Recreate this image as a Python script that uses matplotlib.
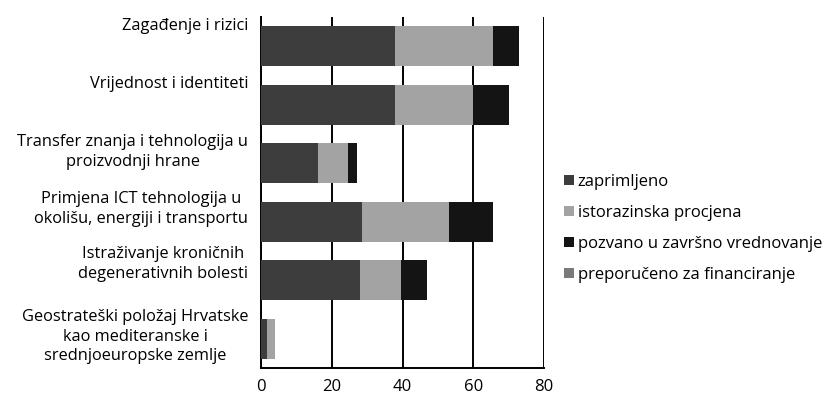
"""Stacked bar chart: projects by research area and evaluation stage."""
import matplotlib

matplotlib.use("Agg")
import matplotlib.pyplot as plt  # noqa: E402
import matplotlib.transforms as mtransforms  # noqa: E402
import numpy as np  # noqa: E402

plt.rcParams["font.family"] = ["Open Sans", "DejaVu Sans"]

categories = [
    "Zagađenje i rizici",
    "Vrijednost i identiteti",
    "Transfer znanja i tehnologija u\nproizvodnji hrane",
    "Primjena ICT tehnologija u\nokolišu, energiji i transportu",
    "Istraživanje kroničnih\ndegenerativnih bolesti",
    "Geostrateški položaj Hrvatske\nkao mediteranske i\nsrednjoeuropske zemlje",
]
series_names = [
    "zaprimljeno",
    "istorazinska procjena",
    "pozvano u završno vrednovanje",
    "preporučeno za financiranje",
]
zaprimljeno = [38, 38, 16, 28.5, 28, 1.7]
istorazinska = [27.5, 22, 8.5, 24.5, 11.5, 2.3]
pozvano = [7.5, 10, 2.5, 12.5, 7.5, 0]
preporuceno = [0, 0, 0, 0, 0, 0]
xticks = [0, 20, 40, 60, 80]

COLORS = ["#3d3d3d", "#a3a3a3", "#141414", "#7a7a7a"]
# the scanned original has its category labels sitting a bit above the bars (px)
LABEL_LIFT = [20, 21, 11, 13, 16, 2]


def main() -> None:
    fig = plt.figure(figsize=(8.35, 4.01), dpi=100)
    ax = fig.add_axes([0.3126, 0.0823, 0.339, 0.8753])

    y = np.arange(len(categories))
    left = np.zeros(len(categories))
    handles = []
    for vals, name, col in zip([zaprimljeno, istorazinska, pozvano, preporuceno],
                               series_names, COLORS):
        h = ax.barh(y, vals, left=left, height=0.68, color=col, label=name, zorder=3)
        handles.append(h)
        left = left + np.array(vals)

    ax.set_xlim(0, 80)
    ax.set_ylim(len(categories) - 0.5, -0.5)
    ax.set_xticks(xticks)
    ax.set_xticklabels([str(t) for t in xticks], fontsize=12)
    ax.set_yticks([])
    # category labels: right edge near the axis, lines centred among themselves
    base = mtransforms.blended_transform_factory(ax.transAxes, ax.transData)
    for yi, lab, lift in zip(y, categories, LABEL_LIFT):
        tr = base + mtransforms.ScaledTranslation(0, lift / 100, fig.dpi_scale_trans)
        ax.text(-0.045, yi, lab, transform=tr, ha="right", va="center",
                multialignment="center", fontsize=11.8, linespacing=1.3)
    ax.tick_params(axis="x", length=0, pad=8)
    ax.grid(axis="x", color="black", lw=1.4, zorder=1)
    for s in ["left", "bottom"]:
        ax.spines[s].set_linewidth(1.4)
    ax.spines["top"].set_visible(False)
    ax.spines["right"].set_visible(False)

    fig.legend(handles=handles, labels=series_names, loc="upper left",
               bbox_to_anchor=(0.668, 0.583), frameon=False, fontsize=12,
               handlelength=0.6, handleheight=0.6, handletextpad=0.2,
               labelspacing=0.9, borderaxespad=0)

    plt.savefig("out.png", dpi=100)


if __name__ == "__main__":
    main()
